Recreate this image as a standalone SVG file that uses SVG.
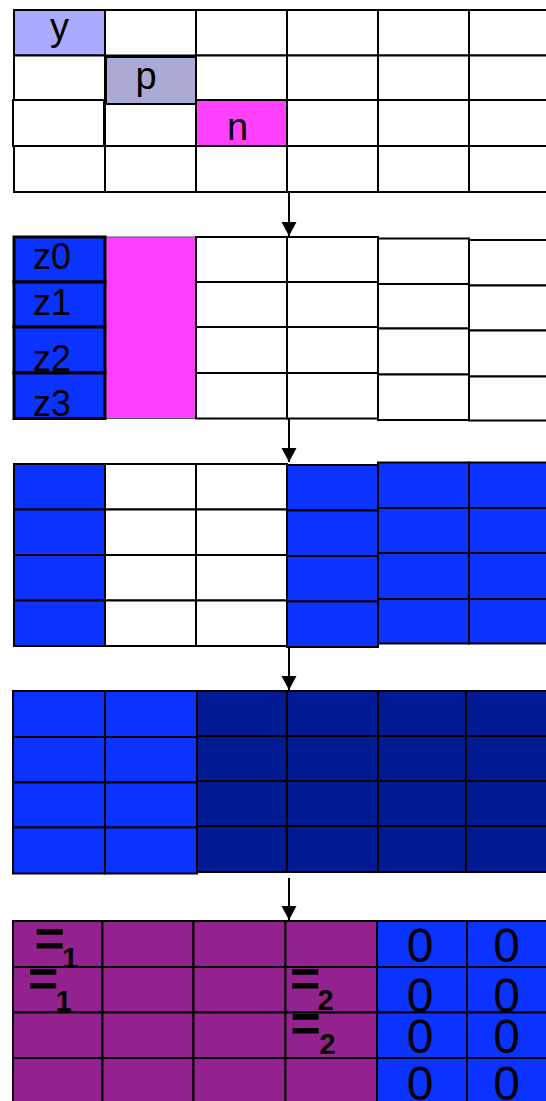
<svg xmlns="http://www.w3.org/2000/svg" width="546" height="1101" viewBox="0 0 546 1101">
<style>
.c{stroke:#000;stroke-width:2}
.k{stroke:#000;stroke-width:3}
.w{fill:#fff}
.b{fill:#0a33ff}
.nv{fill:#021a94}
.pu{fill:#93228e}
.mg{fill:#ff40ff}
.ly{fill:#aaaaff}
.lp{fill:#aaaad4}
.t{font-family:"Liberation Sans",Arial,sans-serif;fill:#000}
.l{font-size:38px;text-anchor:middle}
.z{font-size:36px}
.o{font-size:48px;text-anchor:middle}
.e{font-size:52px;font-weight:bold}
.s{font-size:29px;font-weight:bold}
.a{stroke:#000;stroke-width:2;fill:none}
</style>
<defs>
<marker id="ah" markerUnits="userSpaceOnUse" markerWidth="16" markerHeight="16" refX="14" refY="7.5" orient="auto">
<path d="M0,0 L14,7.5 L0,15 Z" fill="#000"/>
</marker>
</defs>
<rect width="546" height="1101" fill="#fff"/>

<g id="grid1">
<rect class="c ly" x="14" y="10" width="91" height="45.5"/>
<rect class="c w" x="105" y="10" width="91" height="45.5"/>
<rect class="c w" x="196" y="10" width="91" height="45.5"/>
<rect class="c w" x="287" y="10" width="91" height="45.5"/>
<rect class="c w" x="378" y="10" width="91" height="45.5"/>
<rect class="c w" x="469" y="10" width="91" height="45.5"/>
<rect class="c w" x="14" y="55.5" width="91" height="44.5"/>
<rect class="c w" x="196" y="55.5" width="91" height="44.5"/>
<rect class="c w" x="287" y="55.5" width="91" height="44.5"/>
<rect class="c w" x="378" y="55.5" width="91" height="44.5"/>
<rect class="c w" x="469" y="55.5" width="91" height="44.5"/>
<rect class="c w" x="13" y="100" width="91" height="46"/>
<rect class="c w" x="105" y="104" width="91" height="42"/>
<rect class="c mg" x="196" y="100" width="91" height="46"/>
<rect class="c w" x="287" y="100" width="91" height="46"/>
<rect class="c w" x="378" y="100" width="91" height="46"/>
<rect class="c w" x="469" y="100" width="91" height="46"/>
<rect class="c w" x="14" y="146" width="91" height="46"/>
<rect class="c w" x="105" y="146" width="91" height="46"/>
<rect class="c w" x="196" y="146" width="91" height="46"/>
<rect class="c w" x="287" y="146" width="91" height="46"/>
<rect class="c w" x="378" y="146" width="91" height="46"/>
<rect class="c w" x="469" y="146" width="91" height="46"/>
<rect class="c lp" x="106" y="57" width="90" height="47"/>
<text class="t l" x="59.5" y="40">y</text>
<text class="t l" x="146" y="89">p</text>
<text class="t l" x="237.5" y="140">n</text>
</g>

<g id="grid2">
<rect x="105" y="237" width="91" height="181.5" class="mg" stroke="#555" stroke-width="1"/>
<rect class="c w" x="196" y="237" width="91" height="45"/>
<rect class="c w" x="196" y="282" width="91" height="45"/>
<rect class="c w" x="196" y="327" width="91" height="46"/>
<rect class="c w" x="196" y="373" width="91" height="45.5"/>
<rect class="c w" x="287" y="237" width="91" height="45"/>
<rect class="c w" x="287" y="282" width="91" height="45"/>
<rect class="c w" x="287" y="327" width="91" height="46"/>
<rect class="c w" x="287" y="373" width="91" height="45.5"/>
<rect class="c w" x="378" y="238.5" width="91" height="45.5"/>
<rect class="c w" x="378" y="284" width="91" height="44.5"/>
<rect class="c w" x="378" y="328.5" width="91" height="46"/>
<rect class="c w" x="378" y="374.5" width="91" height="45.5"/>
<rect class="c w" x="469" y="240" width="91" height="45.5"/>
<rect class="c w" x="469" y="285.5" width="91" height="45"/>
<rect class="c w" x="469" y="330.5" width="91" height="46"/>
<rect class="c w" x="469" y="376.5" width="91" height="44"/>
<rect class="k b" x="14" y="237" width="91" height="45"/>
<rect class="k b" x="14" y="282" width="91" height="45"/>
<rect class="k b" x="14" y="327" width="91" height="46"/>
<rect class="k b" x="14" y="373" width="91" height="45.5"/>
<text class="t z" x="33" y="269">z0</text>
<text class="t z" x="33" y="315">z1</text>
<text class="t z" x="33" y="371">z2</text>
<text class="t z" x="33" y="416">z3</text>
</g>

<g id="grid3">
<rect class="c b" x="14" y="464" width="91" height="45.5"/>
<rect class="c b" x="14" y="509.5" width="91" height="45.5"/>
<rect class="c b" x="14" y="555" width="91" height="45.5"/>
<rect class="c b" x="14" y="600.5" width="91" height="45.5"/>
<rect class="c w" x="105" y="464" width="91" height="45.5"/>
<rect class="c w" x="105" y="509.5" width="91" height="45.5"/>
<rect class="c w" x="105" y="555" width="91" height="45.5"/>
<rect class="c w" x="105" y="600.5" width="91" height="45.5"/>
<rect class="c w" x="196" y="464" width="91" height="45.5"/>
<rect class="c w" x="196" y="509.5" width="91" height="45.5"/>
<rect class="c w" x="196" y="555" width="91" height="45.5"/>
<rect class="c w" x="196" y="600.5" width="91" height="45.5"/>
<rect class="c b" x="378" y="462.5" width="91" height="45.5"/>
<rect class="c b" x="378" y="508" width="91" height="45"/>
<rect class="c b" x="378" y="553" width="91" height="46"/>
<rect class="c b" x="378" y="599" width="91" height="44.5"/>
<rect class="c b" x="469" y="462.5" width="91" height="45.5"/>
<rect class="c b" x="469" y="508" width="91" height="45"/>
<rect class="c b" x="469" y="553" width="91" height="46"/>
<rect class="c b" x="469" y="599" width="91" height="44.5"/>
<rect class="c b" x="287" y="465" width="91" height="45.5"/>
<rect class="c b" x="287" y="510.5" width="91" height="45.5"/>
<rect class="c b" x="287" y="556" width="91" height="45.5"/>
<rect class="c b" x="287" y="601.5" width="91" height="45.5"/>
</g>

<g id="grid4">
<rect class="c nv" x="197" y="691" width="90" height="45"/>
<rect class="c nv" x="197" y="736" width="90" height="45"/>
<rect class="c nv" x="197" y="781" width="90" height="45"/>
<rect class="c nv" x="197" y="826" width="90" height="46"/>
<rect class="c nv" x="287" y="691" width="91" height="45"/>
<rect class="c nv" x="287" y="736" width="91" height="45"/>
<rect class="c nv" x="287" y="781" width="91" height="45"/>
<rect class="c nv" x="287" y="826" width="91" height="46"/>
<rect class="c nv" x="378" y="691" width="88" height="45"/>
<rect class="c nv" x="378" y="736" width="88" height="45"/>
<rect class="c nv" x="378" y="781" width="88" height="45"/>
<rect class="c nv" x="378" y="826" width="88" height="46"/>
<rect class="c nv" x="466" y="691" width="94" height="45"/>
<rect class="c nv" x="466" y="736" width="94" height="45"/>
<rect class="c nv" x="466" y="781" width="94" height="45"/>
<rect class="c nv" x="466" y="826" width="94" height="46"/>
<rect class="c b" x="13" y="691" width="92" height="46"/>
<rect class="c b" x="13" y="737" width="92" height="45.5"/>
<rect class="c b" x="13" y="782.5" width="92" height="45"/>
<rect class="c b" x="13" y="827.5" width="92" height="46"/>
<rect class="c b" x="105" y="691" width="92" height="46" stroke-width="2.5"/>
<rect class="c b" x="105" y="737" width="92" height="45.5" stroke-width="2.5"/>
<rect class="c b" x="105" y="782.5" width="92" height="45" stroke-width="2.5"/>
<rect class="c b" x="105" y="827.5" width="92" height="46" stroke-width="2.5"/>
</g>

<g id="grid5">
<rect class="c pu" x="13" y="921" width="89.5" height="46"/>
<rect class="c pu" x="13" y="967" width="89.5" height="45.5"/>
<rect class="c pu" x="13" y="1012.5" width="89.5" height="45.5"/>
<rect class="c pu" x="13" y="1058" width="89.5" height="46"/>
<rect class="c pu" x="102.5" y="921" width="91" height="46"/>
<rect class="c pu" x="102.5" y="967" width="91" height="45.5"/>
<rect class="c pu" x="102.5" y="1012.5" width="91" height="45.5"/>
<rect class="c pu" x="102.5" y="1058" width="91" height="46"/>
<rect class="c pu" x="193.5" y="921" width="92" height="46"/>
<rect class="c pu" x="193.5" y="967" width="92" height="45.5"/>
<rect class="c pu" x="193.5" y="1012.5" width="92" height="45.5"/>
<rect class="c pu" x="193.5" y="1058" width="92" height="46"/>
<rect class="c pu" x="285.5" y="921" width="91.5" height="46"/>
<rect class="c pu" x="285.5" y="967" width="91.5" height="45.5"/>
<rect class="c pu" x="285.5" y="1012.5" width="91.5" height="45.5"/>
<rect class="c pu" x="285.5" y="1058" width="91.5" height="46"/>
<rect class="c b" x="377" y="921" width="90" height="46"/>
<rect class="c b" x="377" y="967" width="90" height="45.5"/>
<rect class="c b" x="377" y="1012.5" width="90" height="45.5"/>
<rect class="c b" x="377" y="1058" width="90" height="46"/>
<rect class="c b" x="467" y="921" width="93" height="46"/>
<rect class="c b" x="467" y="967" width="93" height="45.5"/>
<rect class="c b" x="467" y="1012.5" width="93" height="45.5"/>
<rect class="c b" x="467" y="1058" width="93" height="46"/>
<text class="t"><tspan class="e" x="34.5" y="956">=</tspan><tspan class="s" x="62" y="968">1</tspan></text>
<text class="t"><tspan class="e" x="28" y="996">=</tspan><tspan class="s" x="55.5" y="1011">1</tspan></text>
<text class="t"><tspan class="e" x="290" y="996">=</tspan><tspan class="s" x="317.5" y="1010">2</tspan></text>
<text class="t"><tspan class="e" x="290.5" y="1040.5">=</tspan><tspan class="s" x="319.5" y="1054">2</tspan></text>
<text class="t o" x="420" y="962">0</text>
<text class="t o" x="506.5" y="962">0</text>
<text class="t o" x="420" y="1011.5">0</text>
<text class="t o" x="506.5" y="1011.5">0</text>
<text class="t o" x="420" y="1053">0</text>
<text class="t o" x="506.5" y="1053">0</text>
<text class="t o" x="420" y="1100">0</text>
<text class="t o" x="506.5" y="1100">0</text>
</g>

<g id="connectors">
<line class="a" x1="289" y1="192" x2="289" y2="236" marker-end="url(#ah)"/>
<line class="a" x1="289" y1="418" x2="289" y2="462" marker-end="url(#ah)"/>
<line class="a" x1="289" y1="647" x2="289" y2="690" marker-end="url(#ah)"/>
<line class="a" x1="289" y1="878" x2="289" y2="920" marker-end="url(#ah)"/>
</g>
</svg>
